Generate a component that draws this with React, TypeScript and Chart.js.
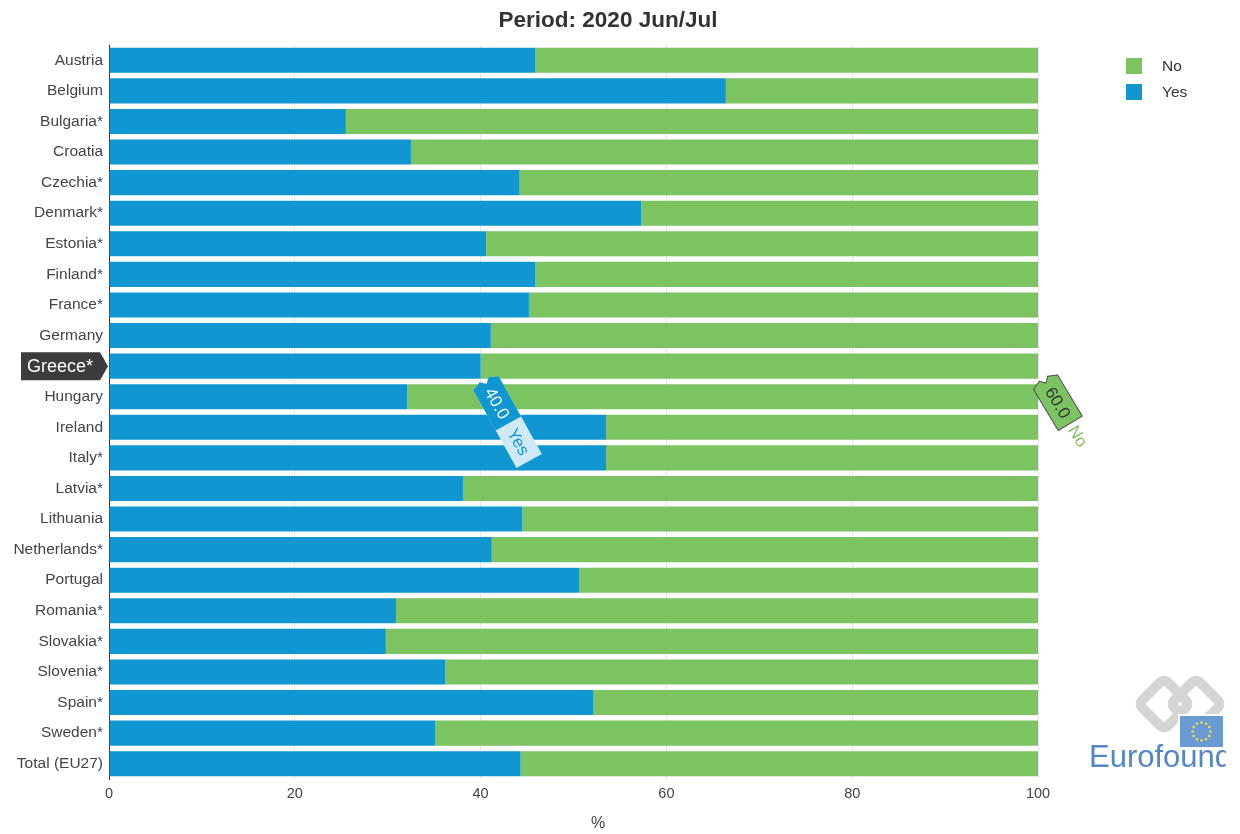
import React, { useEffect, useRef } from "react";
import { Chart, registerables } from "chart.js";

Chart.register(...registerables);

const countries = [
  "Austria", "Belgium", "Bulgaria*", "Croatia", "Czechia*", "Denmark*", "Estonia*", "Finland*",
  "France*", "Germany", "Greece*", "Hungary", "Ireland", "Italy*", "Latvia*", "Lithuania",
  "Netherlands*", "Portugal", "Romania*", "Slovakia*", "Slovenia*", "Spain*", "Sweden*", "Total (EU27)",
];
const yesValues = [
  45.9, 66.4, 25.5, 32.5, 44.2, 57.3, 40.6, 45.9, 45.2, 41.1, 40.0, 32.1,
  53.5, 53.5, 38.1, 44.5, 41.2, 50.6, 30.9, 29.8, 36.2, 52.1, 35.1, 44.3,
];
const noValues = [
  54.1, 33.6, 74.5, 67.5, 55.8, 42.7, 59.4, 54.1, 54.8, 58.9, 60.0, 67.9,
  46.5, 46.5, 61.9, 55.5, 58.8, 49.4, 69.1, 70.2, 63.8, 47.9, 64.9, 55.7,
];
const seriesNames = ["Yes", "No"];
const titleText = "Period: 2020 Jun/Jul";
const axisTitle = "%";
const highlightIndex = 10;

const BLUE = "#1096d1";
const GREEN = "#7cc462";
const FONT = "'Liberation Sans', Arial, Helvetica, sans-serif";

function tagPath(ctx: CanvasRenderingContext2D, x0: number, x1: number, w: number, notch: boolean) {
  const h = w / 2;
  ctx.beginPath();
  if (notch) {
    ctx.moveTo(x0 + 3, -h);
    ctx.lineTo(x0 - 1, -h * 0.35);
    ctx.lineTo(x0 + 4, 0);
    ctx.lineTo(x0 - 1, h * 0.35);
    ctx.lineTo(x0 + 3, h);
  } else {
    ctx.moveTo(x0, -h);
    ctx.lineTo(x0, h);
  }
  ctx.lineTo(x1, h);
  ctx.lineTo(x1, -h);
  ctx.closePath();
}

const overlayPlugin = {
  id: "overlays",
  afterDraw(chart: any) {
    const ctx: CanvasRenderingContext2D = chart.ctx;
    const xs = chart.scales.x;
    const ys = chart.scales.y;
    ctx.save();

    // Title
    ctx.fillStyle = "#333333";
    ctx.font = `bold 22.5px ${FONT}`;
    ctx.textAlign = "center";
    ctx.textBaseline = "middle";
    ctx.fillText(titleText, 608, 21);

    // X axis title
    ctx.fillStyle = "#444444";
    ctx.font = `16px ${FONT}`;
    ctx.fillText(axisTitle, 598, 824);

    // Legend (No, Yes)
    const legendItems = [
      { label: seriesNames[1], color: GREEN },
      { label: seriesNames[0], color: BLUE },
    ];
    ctx.font = `15.5px ${FONT}`;
    ctx.textAlign = "left";
    legendItems.forEach((it, i) => {
      const y = 58 + i * 26;
      ctx.fillStyle = it.color;
      ctx.fillRect(1126, y, 16, 16);
      ctx.fillStyle = "#333333";
      ctx.fillText(it.label, 1162, y + 8.5);
    });

    // Highlighted category label
    const gy = ys.getPixelForValue(highlightIndex);
    ctx.fillStyle = "#3c3c3c";
    ctx.beginPath();
    ctx.moveTo(21, gy - 14);
    ctx.lineTo(100, gy - 14);
    ctx.lineTo(108, gy);
    ctx.lineTo(100, gy + 14);
    ctx.lineTo(21, gy + 14);
    ctx.closePath();
    ctx.fill();
    ctx.fillStyle = "#ffffff";
    ctx.font = `18px ${FONT}`;
    ctx.textAlign = "right";
    ctx.textBaseline = "middle";
    ctx.fillText(countries[highlightIndex], 93, gy + 1);

    const bottom = gy + 12.5;
    // Yes tag
    {
      const xYes = xs.getPixelForValue(yesValues[highlightIndex]);
      ctx.save();
      ctx.translate(xYes + 4, bottom + 2);
      ctx.rotate((61 * Math.PI) / 180);
      const w = 29;
      tagPath(ctx, 0, 92, w, true);
      ctx.fillStyle = "#cfe9f6";
      ctx.fill();
      tagPath(ctx, 0, 49, w, true);
      ctx.fillStyle = BLUE;
      ctx.fill();
      ctx.font = `17px ${FONT}`;
      ctx.textAlign = "center";
      ctx.textBaseline = "middle";
      ctx.fillStyle = "#ffffff";
      ctx.fillText(yesValues[highlightIndex].toFixed(1), 26, 1);
      ctx.fillStyle = BLUE;
      ctx.fillText(seriesNames[0], 70, 1);
      ctx.restore();
    }
    // No tag
    {
      const xNo = xs.getPixelForValue(yesValues[highlightIndex] + noValues[highlightIndex]);
      ctx.save();
      ctx.translate(xNo + 6, bottom + 1);
      ctx.rotate((59 * Math.PI) / 180);
      const w = 28;
      tagPath(ctx, 0, 51, w, true);
      ctx.fillStyle = GREEN;
      ctx.fill();
      ctx.strokeStyle = "#4d4d4d";
      ctx.lineWidth = 1;
      ctx.stroke();
      ctx.font = `17px ${FONT}`;
      ctx.textAlign = "center";
      ctx.textBaseline = "middle";
      ctx.fillStyle = "#333333";
      ctx.fillText(noValues[highlightIndex].toFixed(1), 27, 1);
      ctx.fillStyle = GREEN;
      ctx.fillText(seriesNames[1], 66, 1);
      ctx.restore();
    }

    // Eurofound logo
    ctx.save();
    ctx.beginPath();
    ctx.rect(1080, 660, 146, 120);
    ctx.clip();
    ctx.strokeStyle = "#d5d5d5";
    ctx.lineWidth = 10;
    ctx.lineJoin = "round";
    [1164, 1196].forEach((cx) => {
      ctx.save();
      ctx.translate(cx, 704);
      ctx.rotate(Math.PI / 4);
      ctx.beginPath();
      const s = 18;
      const r = 6;
      ctx.moveTo(-s + r, -s);
      ctx.lineTo(s - r, -s);
      ctx.quadraticCurveTo(s, -s, s, -s + r);
      ctx.lineTo(s, s - r);
      ctx.quadraticCurveTo(s, s, s - r, s);
      ctx.lineTo(-s + r, s);
      ctx.quadraticCurveTo(-s, s, -s, s - r);
      ctx.lineTo(-s, -s + r);
      ctx.quadraticCurveTo(-s, -s, -s + r, -s);
      ctx.closePath();
      ctx.stroke();
      ctx.restore();
    });
    ctx.fillStyle = "#ffffff";
    ctx.fillRect(1178, 714, 48, 35);
    ctx.fillStyle = "#6a9ad3";
    ctx.fillRect(1180, 716, 43, 31);
    ctx.fillStyle = "#f3e14a";
    for (let i = 0; i < 12; i++) {
      const a = (i / 12) * Math.PI * 2;
      ctx.beginPath();
      ctx.arc(1201.5 + 9 * Math.cos(a), 731.5 + 9 * Math.sin(a), 1.3, 0, Math.PI * 2);
      ctx.fill();
    }
    ctx.fillStyle = "#5586c6";
    ctx.font = `31px ${FONT}`;
    ctx.textAlign = "left";
    ctx.textBaseline = "alphabetic";
    ctx.fillText("Eurofound", 1089, 767);
    ctx.restore();

    ctx.restore();
  },
};

export default function App() {
  const canvasRef = useRef<HTMLCanvasElement | null>(null);

  useEffect(() => {
    const canvas = canvasRef.current;
    if (!canvas) return;
    const chart = new Chart(canvas, {
      type: "bar",
      data: {
        labels: countries,
        datasets: [
          {
            label: seriesNames[0],
            data: yesValues,
            backgroundColor: BLUE,
            borderWidth: 0,
            barPercentage: 0.82,
            categoryPercentage: 1,
          },
          {
            label: seriesNames[1],
            data: noValues,
            backgroundColor: GREEN,
            borderWidth: 0,
            barPercentage: 0.82,
            categoryPercentage: 1,
          },
        ],
      },
      options: {
        indexAxis: "y",
        responsive: false,
        animation: false,
        layout: { padding: { top: 45, left: 0, right: 202, bottom: 0 } },
        plugins: {
          legend: { display: false },
          title: { display: false },
          tooltip: { enabled: false },
        },
        scales: {
          x: {
            stacked: true,
            min: 0,
            max: 100,
            ticks: {
              stepSize: 20,
              color: "#444444",
              font: { family: FONT, size: 14.5 },
              padding: 6,
            },
            grid: { color: "#e6e6e6", drawTicks: false },
            border: { display: false },
            afterFit: (scale: any) => {
              scale.height = 55;
            },
          },
          y: {
            stacked: true,
            ticks: {
              color: (c: any) => (c.index === highlightIndex ? "rgba(0,0,0,0)" : "#444444"),
              font: { family: FONT, size: 15.5 },
              padding: 6,
              autoSkip: false,
            },
            grid: { display: false, drawTicks: false },
            border: { display: true, color: "#333333", width: 1 },
            afterFit: (scale: any) => {
              scale.width = 109;
            },
          },
        },
      },
      plugins: [overlayPlugin],
    });
    return () => chart.destroy();
  }, []);

  return (
    <div style={{ position: "fixed", left: 0, top: 0, width: 1240, height: 834, background: "#ffffff" }}>
      <canvas ref={canvasRef} width={1240} height={834} />
    </div>
  );
}
